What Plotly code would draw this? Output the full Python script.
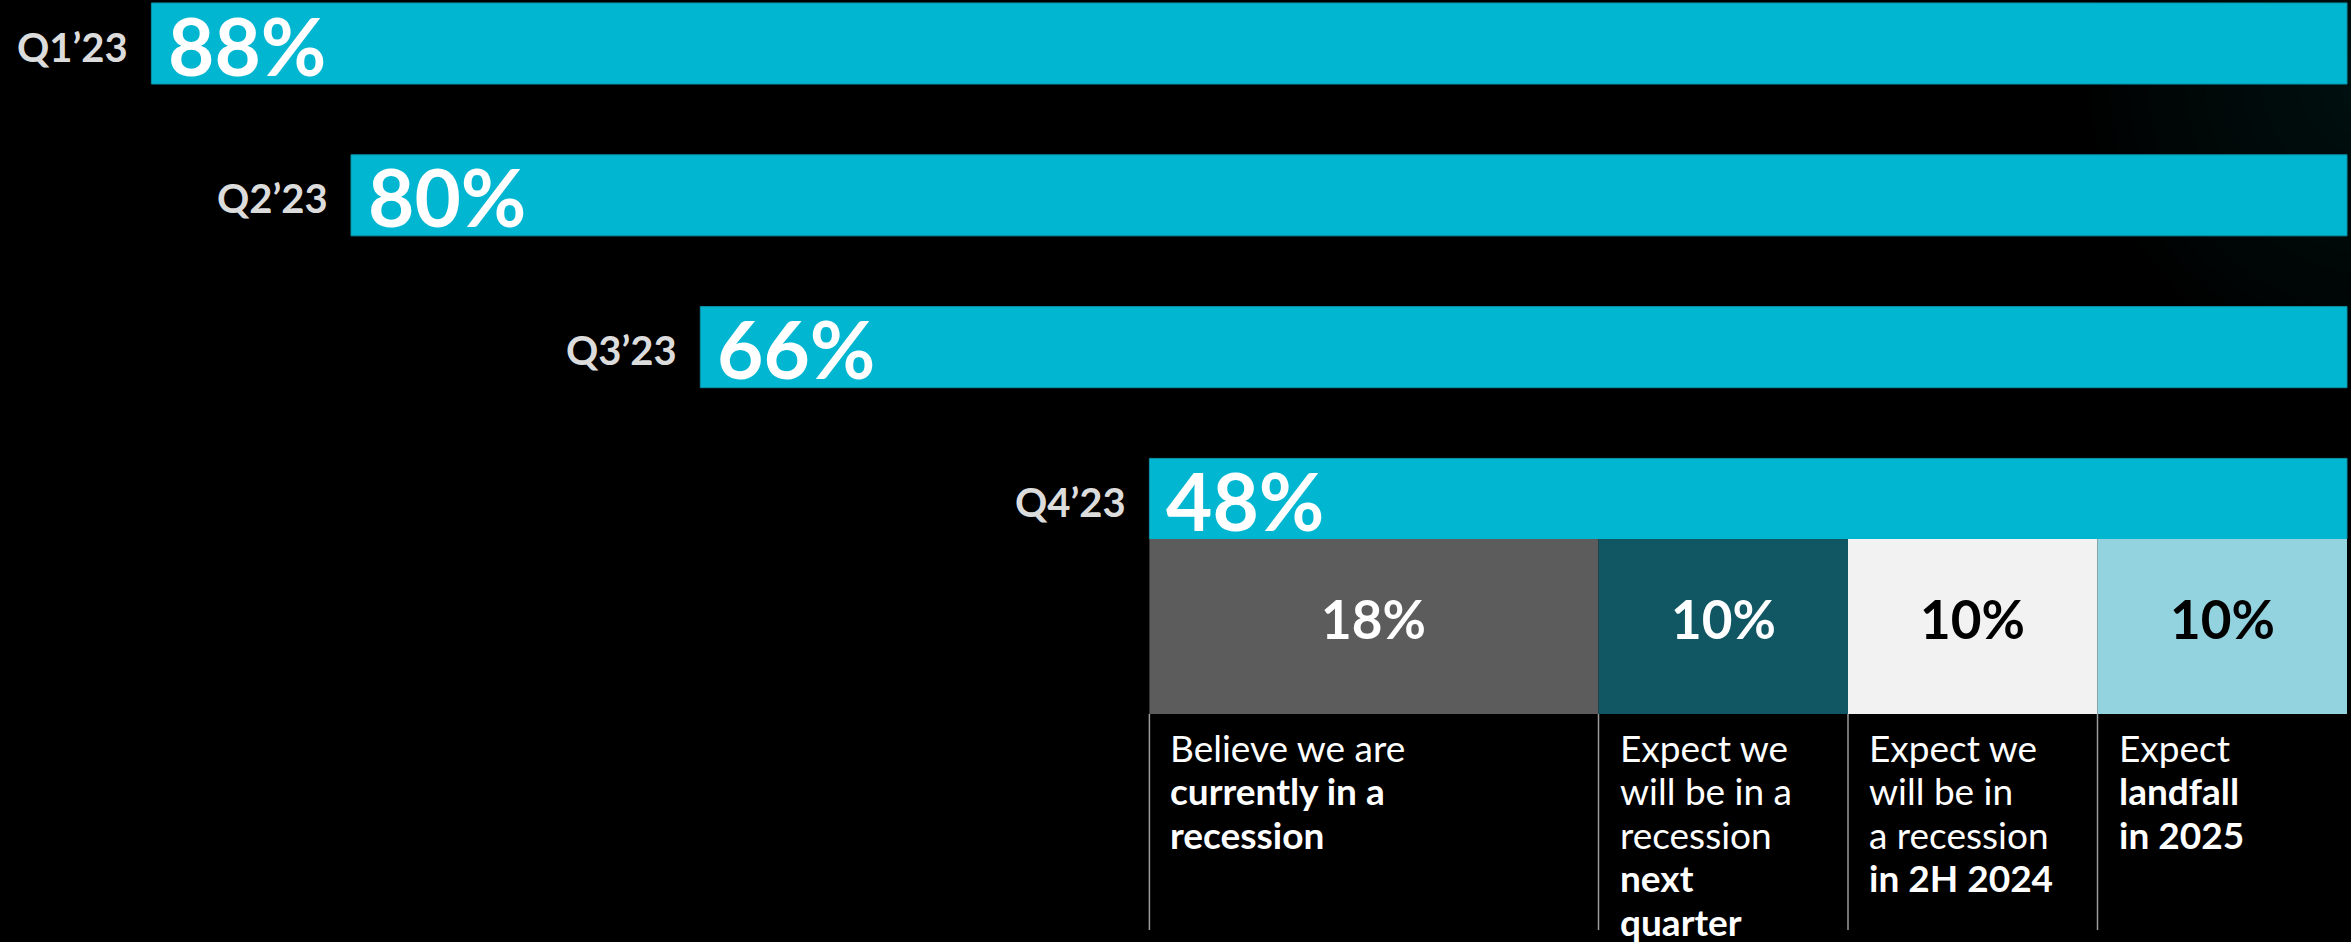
import plotly.graph_objects as go

# Share of respondents expecting a recession, by survey quarter
quarters = ["Q1\u201923", "Q2\u201923", "Q3\u201923", "Q4\u201923"]
recession_pct = [88, 80, 66, 48]

# Breakdown of the Q4'23 figure
breakdown_pct = [18, 10, 10, 10]
breakdown_colors = ["#5c5c5c", "#115763", "#f2f2f2", "#93d3df"]
breakdown_text_colors = ["#ffffff", "#ffffff", "#000000", "#000000"]
breakdown_labels = [
    ["Believe we are", "<b>currently in a</b>", "<b>recession</b>"],
    ["Expect we", "will be in a", "recession", "<b>next</b>", "<b>quarter</b>"],
    ["Expect we", "will be in", "a recession", "<b>in 2H 2024</b>"],
    ["Expect", "<b>landfall</b>", "<b>in 2025</b>"],
]

W, H = 2351, 942
CYAN = "#00b6d0"
FONT = "Lato"

fig = go.Figure()

# Main bars: right-aligned at 100%, length equal to the share
bases = [100 - v for v in recession_pct]
fig.add_trace(go.Bar(
    y=quarters, x=recession_pct, base=bases, orientation="h",
    width=0.534,
    marker=dict(color=CYAN, line=dict(color="#0a93a8", width=1)),
    hoverinfo="skip", showlegend=False,
    xaxis="x", yaxis="y",
))

# Q4 breakdown segments laid out under the Q4 bar
seg_start = 100 - recession_pct[-1]
seg_bases = []
acc = seg_start
for v in breakdown_pct:
    seg_bases.append(acc)
    acc += v

for v, b, c in zip(breakdown_pct, seg_bases, breakdown_colors):
    fig.add_trace(go.Bar(
        y=["Q4 split"], x=[v], base=[b], orientation="h", width=1,
        marker=dict(color=c, line=dict(width=0)),
        hoverinfo="skip", showlegend=False,
        xaxis="x", yaxis="y2",
    ))

annotations = []
for v, b, tc in zip(breakdown_pct, seg_bases, breakdown_text_colors):
    annotations.append(dict(
        x=b + v / 2, y="Q4 split", xref="x", yref="y2", text=f"<b>{v}%</b>",
        showarrow=False, xanchor="center", yanchor="middle", yshift=8,
        font=dict(family=FONT, size=53, color=tc),
    ))

for q, v, b in zip(quarters, recession_pct, bases):
    annotations.append(dict(
        x=b, y=q, xref="x", yref="y", text=f"<b>{v}%</b>", showarrow=False,
        xanchor="left", yanchor="middle", xshift=15, yshift=-1,
        font=dict(family=FONT, size=80, color="#ffffff"),
    ))
    annotations.append(dict(
        x=b, y=q, xref="x", yref="y", text=f"<b>{q}</b>", showarrow=False,
        xanchor="right", yanchor="middle", xshift=-21, yshift=-3,
        font=dict(family=FONT, size=40, color="#dcdcdc"),
    ))

# Descriptions below each segment, one line at a time
line_top_px = 747
line_step_px = 43.6
shapes = []
for b, lines in zip(seg_bases, breakdown_labels):
    shapes.append(dict(
        type="line", xref="x", yref="paper", x0=b, x1=b,
        y0=1 - 714 / H, y1=1 - 930 / H,
        line=dict(color="#9a9a9a", width=1.5), layer="above",
    ))
    for i, ln in enumerate(lines):
        ypx = line_top_px + i * line_step_px
        annotations.append(dict(
            x=b, y=1 - ypx / H, xref="x", yref="paper", text=ln, showarrow=False,
            xanchor="left", yanchor="middle", xshift=19,
            font=dict(family=FONT, size=37, color="#ffffff"),
        ))

# Faint teal glow in the upper-right corner, built from many soft rings
cx, cy = 2380, 80
for k in range(14):
    r = 290 - k * 19
    shapes.append(dict(
        type="circle", xref="paper", yref="paper",
        x0=(cx - r) / W, x1=(cx + r) / W,
        y0=1 - (cy + r) / H, y1=1 - (cy - r) / H,
        fillcolor="rgba(25,115,125,0.016)", line=dict(width=0), layer="below",
    ))

px_per_unit = 24.95
x_min = 100 - 2347 / px_per_unit
x_max = 100 + 4 / px_per_unit

row_px = 151.8
y_top = 0 - 43.5 / row_px
y_bottom = 3 + (H - 499) / row_px

fig.update_layout(
    width=W, height=H,
    margin=dict(l=0, r=0, t=0, b=0),
    paper_bgcolor="#000000", plot_bgcolor="#000000",
    barmode="overlay",
    xaxis=dict(range=[x_min, x_max], visible=False, fixedrange=True),
    yaxis=dict(
        type="category", categoryarray=quarters,
        range=[y_bottom, y_top], visible=False, domain=[0, 1],
    ),
    yaxis2=dict(
        type="category", range=[-0.5, 0.5], visible=False,
        domain=[1 - 714 / H, 1 - 539 / H], anchor="x",
    ),
    annotations=annotations,
    shapes=shapes,
)

fig.write_html("out.html")
